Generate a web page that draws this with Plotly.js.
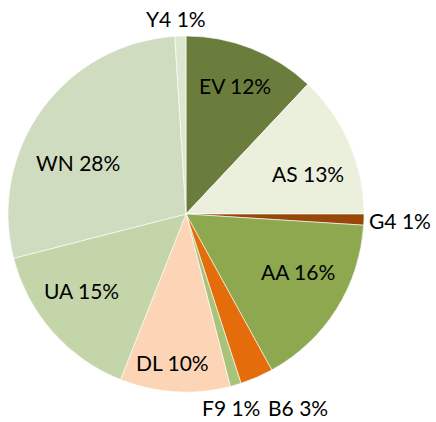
<!DOCTYPE html>
<html><head><meta charset="utf-8">
<script src="https://cdn.plot.ly/plotly-3.0.1.min.js"></script>
<style>html,body{margin:0;padding:0;background:#fff}#chart{width:436px;height:422px}</style>
</head><body><div id="chart"></div>
<script>
const labels = ["EV","AS","G4","AA","B6","F9","DL","UA","WN","Y4"];
const values = [12,13,1,16,3,1,10,15,28,1];
const colors = ["#6b7d3d","#ebf0dd","#974809","#8ea84f","#e46c0a","#a9c47a","#fbd5b6","#c3d5a9","#d0dcbf","#dde7d0"];
// label centre positions in pixels (layout only)
const labelPx = [[235,85],[308,173],[400,220],[298,271],[298,407],[231,407],[172,362],[81,290],[78,162],[176,19]];

const W = 436, H = 422;
const annotations = labels.map((l, i) => ({
  text: l + " " + values[i] + "%",
  x: labelPx[i][0] / W, y: 1 - labelPx[i][1] / H,
  xref: "paper", yref: "paper", xanchor: "center", yanchor: "middle",
  showarrow: false,
  font: {family: "Lato, 'Open Sans', sans-serif", size: 21, color: "#000"}
}));

Plotly.newPlot("chart", [{
  type: "pie",
  labels: labels,
  values: values,
  sort: false,
  direction: "clockwise",
  rotation: 0,
  marker: {colors: colors, line: {color: "#ffffff", width: 0.6}},
  textinfo: "none",
  hoverinfo: "none",
  showlegend: false,
  domain: {x: [8 / W, 364 / W], y: [1 - 392 / H, 1 - 36 / H]}
}], {
  width: W, height: H,
  margin: {l: 0, r: 0, t: 0, b: 0},
  paper_bgcolor: "#fff",
  showlegend: false,
  annotations: annotations
}, {displayModeBar: false, staticPlot: true});
</script></body></html>
